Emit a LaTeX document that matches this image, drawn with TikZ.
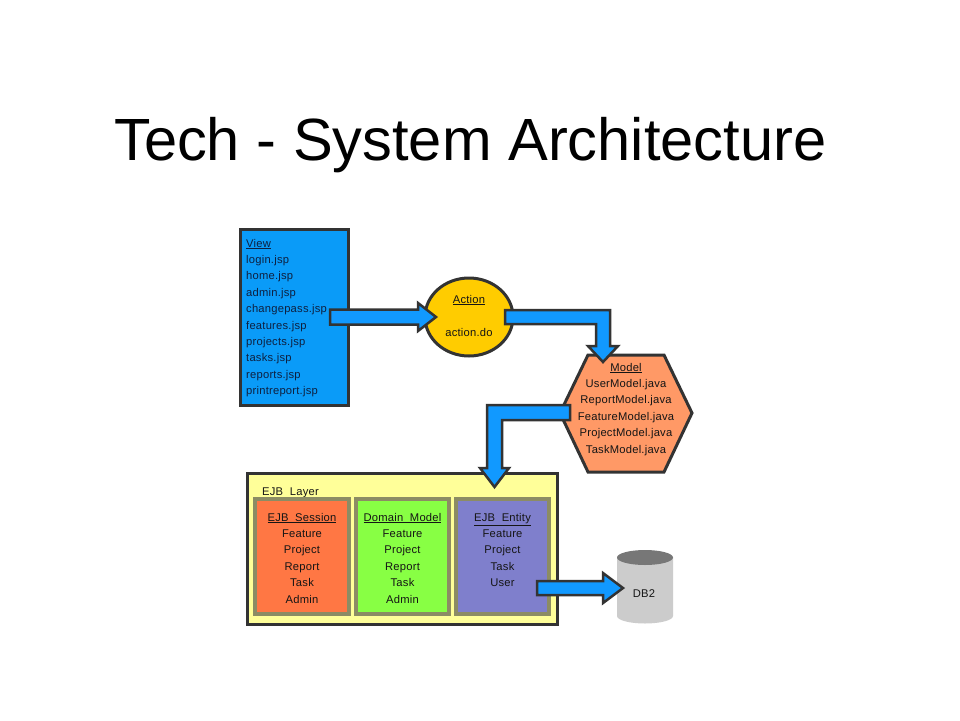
\documentclass[tikz,border=0pt]{standalone}
\usepackage{fontspec}
\setmainfont{Liberation Sans}
\newfontfamily\dfont[LetterSpace=2]{Liberation Sans}
\usetikzlibrary{shapes.geometric}
\definecolor{viewblue}{HTML}{0A9BF8}
\definecolor{arrowblue}{HTML}{1199FF}
\definecolor{actyellow}{HTML}{FFCC00}
\definecolor{modelsalmon}{HTML}{FF9966}
\definecolor{ejbyellow}{HTML}{FFFF99}
\definecolor{sessorange}{HTML}{FF7744}
\definecolor{domgreen}{HTML}{88FF44}
\definecolor{entblue}{HTML}{7F7FCC}
\definecolor{innerborder}{HTML}{8C8C64}
\definecolor{outline}{HTML}{333333}
\definecolor{viewtext}{HTML}{0E2040}
\definecolor{dtext}{HTML}{151515}
\definecolor{dbbody}{HTML}{CCCCCC}
\definecolor{dbtop}{HTML}{777777}
\tikzset{
  shapeline/.style={draw=outline, line width=3pt, line join=miter},
  blockarrow/.style={fill=arrowblue, draw=outline, line width=2.5pt, line join=miter},
  innerbox/.style={draw=innerborder, line width=3.5pt},
  dtxt/.style={inner sep=0pt, anchor=base, text=dtext, font=\dfont\fontsize{11.2}{13}\selectfont},
  vtxt/.style={dtxt, anchor=base west, text=viewtext},
}
\begin{document}
\begin{tikzpicture}[x=1pt,y=-1pt]
\useasboundingbox[fill=white] (0,0) rectangle (960,720);

% Title
\node[inner sep=0pt, anchor=base west, font=\fontsize{59.6}{70}\selectfont] (title) at (114,160) {Tech - System Architecture};

% View box
\draw[shapeline, fill=viewblue] (240,229) rectangle (348,405);
\coordinate (view) at (294,317);
\node[vtxt] (v0) at (246,247) {\underline{View}};
\foreach \t [count=\i] in {login.jsp,home.jsp,admin.jsp,changepass.jsp,features.jsp,projects.jsp,tasks.jsp,reports.jsp,printreport.jsp}
  \node[vtxt] (v\i) at (246,{247+16.4*\i}) {\t};

% Action ellipse
\node[ellipse, shapeline, fill=actyellow, minimum width=88pt, minimum height=78pt, inner sep=0pt] (action) at (469,317) {};
\node[dtxt] (acttitle) at (469,303) {\underline{Action}};
\node[dtxt] (actdo) at (469,336) {action.do};

% Model hexagon
\draw[shapeline, fill=modelsalmon] (560,413) -- (588,355) -- (664,355) -- (692,413) -- (664,472) -- (588,472) -- cycle;
\coordinate (model) at (626,413);
\node[dtxt] (m0) at (626,371) {\underline{Model}};
\foreach \t [count=\i] in {UserModel.java,ReportModel.java,FeatureModel.java,ProjectModel.java,TaskModel.java}
  \node[dtxt] (m\i) at (626,{371+16.4*\i}) {\t};

% EJB layer
\draw[shapeline, fill=ejbyellow] (247,473) rectangle (557,624);
\node[dtxt, anchor=base west] (ejbtitle) at (262,495) {\underline{EJB\ \ Layer}};
\draw[innerbox, fill=sessorange] (255,499) rectangle (349,614);
\draw[innerbox, fill=domgreen] (356,499) rectangle (449,614);
\draw[innerbox, fill=entblue] (456,499) rectangle (549,614);
\node[dtxt] (s0) at (302,521) {\underline{EJB\ \ Session}};
\foreach \t [count=\i] in {Feature,Project,Report,Task,Admin}
  \node[dtxt] (s\i) at (302,{521+16.4*\i}) {\t};
\node[dtxt] (d0) at (402.5,521) {\underline{Domain\ \ Model}};
\foreach \t [count=\i] in {Feature,Project,Report,Task,Admin}
  \node[dtxt] (d\i) at (402.5,{521+16.4*\i}) {\t};
\node[dtxt] (e0) at (502.5,521) {\underline{EJB\ \ Entity}};
\foreach \t [count=\i] in {Feature,Project,Task,User}
  \node[dtxt] (e\i) at (502.5,{521+16.4*\i}) {\t};

% DB2 cylinder
\fill[dbbody] (617,557.5) -- (617,616) arc[start angle=180, end angle=0, x radius=28, y radius=7.5] -- (673,557.5) -- cycle;
\fill[dbtop] (645,557.5) ellipse[x radius=28, y radius=7.5];
\node[dtxt] (db2) at (644,597) {DB2};

% Block arrows
\draw[blockarrow] (330,309.5) -- (418,309.5) -- (418,303) -- (436,317) -- (418,331) -- (418,324.5) -- (330,324.5) -- cycle;
\draw[blockarrow] (505,310) -- (610,310) -- (610,346) -- (618,346) -- (603,362) -- (588,346) -- (596,346) -- (596,324) -- (505,324) -- cycle;
\draw[blockarrow] (570,405) -- (487,405) -- (487,468) -- (480,468) -- (494.5,487) -- (509,468) -- (502,468) -- (502,420) -- (570,420) -- cycle;
\draw[blockarrow] (537,581) -- (603,581) -- (603,573) -- (623,588) -- (603,603) -- (603,595) -- (537,595) -- cycle;
\end{tikzpicture}
\end{document}
